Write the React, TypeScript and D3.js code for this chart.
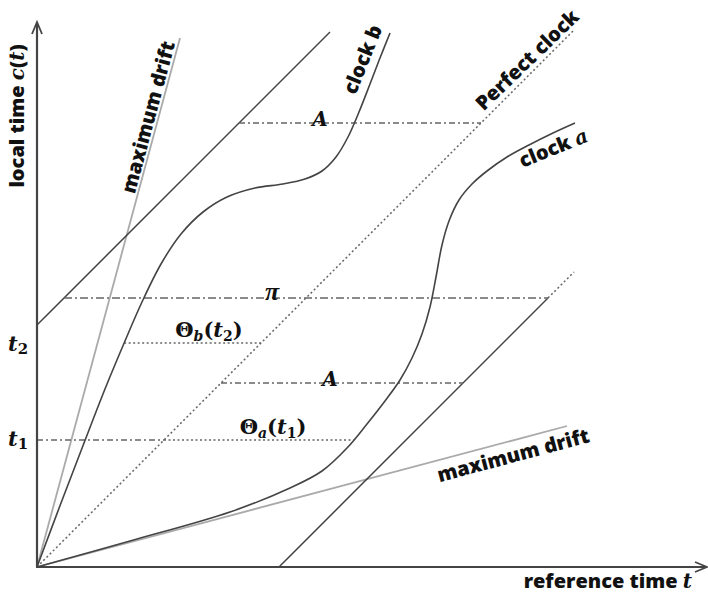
import React from 'react'
import * as d3 from 'd3'

// units: reference time t (x) and local time c(t) (y)
const clockA: [number, number][] = [
  [0, 0], [9.3, 2.6], [19.3, 5.5], [25.3, 7.9], [28.5, 9.6], [31.0, 11.9], [33.0, 14.3],
  [34.8, 16.6], [36.3, 18.7], [37.5, 20.9], [38.5, 23.3], [39.3, 26.0], [39.9, 29.0],
  [40.5, 32.2], [41.2, 34.6], [42.2, 36.7], [43.5, 38.3], [45.0, 39.6], [47.0, 41.0],
  [49.2, 42.2], [51.6, 43.4], [53.8, 44.4],
]
const clockB: [number, number][] = [
  [0, 0], [2.4, 6.4], [4.7, 12.4], [6.8, 17.8], [8.8, 22.6], [10.5, 26.5], [12.4, 30.3],
  [14.4, 33.3], [16.6, 35.5], [19.0, 37.0], [21.8, 37.9], [24.6, 38.3], [26.8, 38.8],
  [28.5, 39.6], [29.9, 41.0], [31.1, 43.0], [32.2, 45.5], [33.3, 48.3], [34.3, 50.9], [35.3, 53.4],
]
const perfectEnd = 53.6
const driftSteep: [number, number] = [14.3, 52.9]
const driftShallow: [number, number] = [53.0, 14.1]
const bound = 24.2 // precision bound offset
const upperEnd = 29.3
const lowerEnd = 29.5
const t1 = 12.7
const t2 = 22.4
const piLevel = 26.9
const aLow = 18.4
const aHigh = 44.4

const W = 708
const H = 595

// x where a curve reaches level v (linear between samples)
function crossAt(pts: [number, number][], v: number) {
  const i = pts.findIndex(d => d[1] >= v)
  const [x0, y0] = pts[i - 1]
  const [x1, y1] = pts[i]
  return x0 + ((v - y0) / (y1 - y0)) * (x1 - x0)
}

export default function App() {
  const x = d3.scaleLinear().domain([0, 67]).range([37, 707])
  const y = d3.scaleLinear().domain([0, 54.5]).range([567, 22])
  const line = d3.line<[number, number]>().x(d => x(d[0])).y(d => y(d[1]))
  const curve = d3.line<[number, number]>().x(d => x(d[0])).y(d => y(d[1])).curve(d3.curveCatmullRom.alpha(0.5))

  const crossA = crossAt(clockA, t1)
  const crossB = crossAt(clockB, t2)

  const sans = '"Open Sans", Lato, sans-serif'
  const serif = '"DejaVu Serif", "Liberation Serif", serif'
  const lserif = '"Liberation Serif", serif'
  const dashDot = '6,3,2,3'
  const dotted = '2,2.5'
  const hl = (yy: number, x0: number, x1: number, dash: string, key: string) => (
    <path key={key} d={line([[x0, yy], [x1, yy]])!} stroke="#666" strokeWidth={1.4} strokeDasharray={dash} fill="none" />
  )
  const lab = { fontFamily: sans, fontWeight: 800, fontSize: 20, fill: '#111', textAnchor: 'middle' as const }
  const math = { fontFamily: serif, fontWeight: 700, fontSize: 21, fill: '#111', textAnchor: 'middle' as const }

  return (
    <svg width={W} height={H} style={{ position: 'absolute', left: 0, top: 0, background: '#fff' }}>
      {/* max drift */}
      <path d={line([[0, 0], driftSteep])!} stroke="#aaa" strokeWidth={1.8} fill="none" />
      <path d={line([[0, 0], driftShallow])!} stroke="#aaa" strokeWidth={1.8} fill="none" />

      {/* perfect clock */}
      <path d={line([[0, 0], [perfectEnd, perfectEnd]])!} stroke="#666" strokeWidth={1.5} strokeDasharray={dotted} fill="none" />

      {/* bounds */}
      <path d={line([[0, bound], [upperEnd, upperEnd + bound]])!} stroke="#444" strokeWidth={1.5} fill="none" />
      <path d={line([[bound, 0], [piLevel + bound, piLevel]])!} stroke="#444" strokeWidth={1.5} fill="none" />
      <path d={line([[piLevel + bound, piLevel], [lowerEnd + bound, lowerEnd]])!} stroke="#666" strokeWidth={1.5} strokeDasharray={dotted} fill="none" />

      {/* horizontal markers */}
      {hl(aHigh, aHigh - bound, aHigh, dashDot, 'ah')}
      {hl(piLevel, piLevel - bound, piLevel + bound, '8,3,2,3', 'pi')}
      {hl(t2, crossB, t2, dotted, 'tb')}
      {hl(aLow, aLow, aLow + bound, dashDot, 'al')}
      {hl(t1, 0, t1, dashDot, 't1')}
      {hl(t1, t1, crossA, dotted, 'ta')}

      {/* clocks */}
      <path d={curve(clockA)!} stroke="#444" strokeWidth={1.6} fill="none" />
      <path d={curve(clockB)!} stroke="#444" strokeWidth={1.6} fill="none" />

      {/* axes */}
      <line x1={x(0)} y1={y(0)} x2={x(0)} y2={y(54.3)} stroke="#444" strokeWidth={2.2} />
      <line x1={x(0) - 1} y1={y(0)} x2={x(66.8)} y2={y(0)} stroke="#444" strokeWidth={2.2} />
      <path d={`M${x(0) - 5},${y(53.3)} L${x(0)},${y(54.5)} L${x(0) + 5},${y(53.3)}`} stroke="#444" strokeWidth={1.8} fill="none" />
      <path d={`M${x(65.8)},${y(0) - 5} L${x(67)},${y(0)} L${x(65.8)},${y(0) + 5}`} stroke="#444" strokeWidth={1.8} fill="none" />

      {/* axis titles */}
      <text transform={`translate(24,${y(45.1)}) rotate(-90)`} {...lab}>
        local time <tspan fontFamily={serif} fontStyle="italic">c</tspan>(<tspan fontFamily={serif} fontStyle="italic">t</tspan>)
      </text>
      <text x={x(65.5)} y={588} {...lab} textAnchor="end">
        reference time <tspan fontFamily={serif} fontStyle="italic">t</tspan>
      </text>

      {/* t1 / t2 */}
      <text x={18} y={y(t2) + 8} {...math} fontStyle="italic">
        t<tspan fontSize={15} fontStyle="normal" dy={3}>2</tspan>
      </text>
      <text x={18} y={y(t1) + 6} {...math} fontStyle="italic">
        t<tspan fontSize={15} fontStyle="normal" dy={3}>1</tspan>
      </text>

      {/* math labels */}
      <text x={x(28.3)} y={y(aHigh) + 3} {...math} fontStyle="italic" fontSize={20}>A</text>
      <text x={x(29.3)} y={y(aLow) + 3} {...math} fontStyle="italic" fontSize={20}>A</text>
      <text x={x(23.5)} y={y(piLevel) + 2} {...math} fontFamily={lserif} fontStyle="italic" fontSize={26}>π</text>
      <text x={x(17.2)} y={y(t2) - 6} {...math}>
        Θ<tspan fontStyle="italic" fontSize={14} dy={4}>b</tspan><tspan dy={-4}>(</tspan><tspan fontStyle="italic">t</tspan><tspan fontSize={14} dy={4}>2</tspan><tspan dy={-4}>)</tspan>
      </text>
      <text x={x(23.6)} y={y(t1) - 6} {...math}>
        Θ<tspan fontStyle="italic" fontSize={14} dy={4}>a</tspan><tspan dy={-4}>(</tspan><tspan fontStyle="italic">t</tspan><tspan fontSize={14} dy={4}>1</tspan><tspan dy={-4}>)</tspan>
      </text>

      {/* line labels */}
      <text transform={`translate(${x(11.8)},${y(44.8)}) rotate(-75)`} {...lab}>maximum drift</text>
      <text transform={`translate(${x(47.8)},${y(10.5)}) rotate(-15)`} {...lab}>maximum drift</text>
      <text transform={`translate(${x(33.2)},${y(50.5)}) rotate(-68)`} {...lab}>clock b</text>
      <text transform={`translate(${x(49.5)},${y(50.2)}) rotate(-44)`} {...lab}>Perfect clock</text>
      <text transform={`translate(${x(51.9)},${y(41.25)}) rotate(-22)`} {...lab}>
        clock <tspan fontFamily={serif} fontStyle="italic">a</tspan>
      </text>
    </svg>
  )
}
